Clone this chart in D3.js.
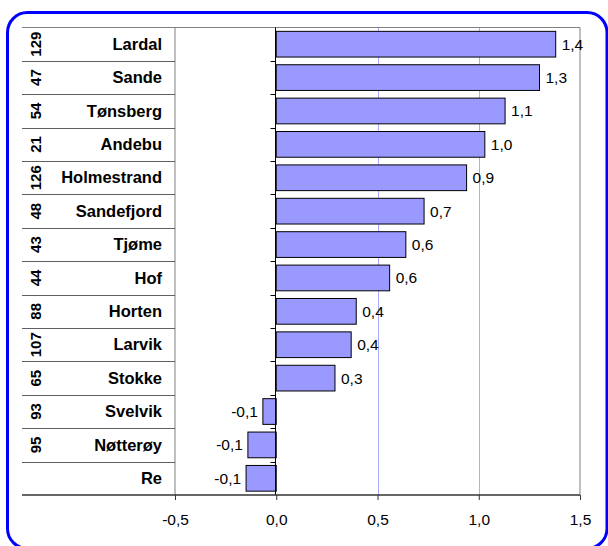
<!DOCTYPE html>
<html><head><meta charset="utf-8">
<script src="https://cdn.jsdelivr.net/npm/d3@7/dist/d3.min.js"></script>
<style>html,body{margin:0;padding:0;background:#fff;}svg{display:block;}</style>
</head><body>
<svg id="c" width="608" height="546"></svg>
<script>
const categories = ["Lardal","Sande","Tønsberg","Andebu","Holmestrand","Sandefjord","Tjøme","Hof","Horten","Larvik","Stokke","Svelvik","Nøtterøy","Re"];
const codes = ["129","47","54","21","126","48","43","44","88","107","65","93","95",""];
const values = [1.38,1.30,1.13,1.03,0.94,0.73,0.64,0.56,0.395,0.37,0.29,-0.066,-0.14,-0.149];
const xTicks = [-0.5,0,0.5,1.0,1.5];

const svg = d3.select("#c");
const font = "'Liberation Sans', Arial, sans-serif";
const L = 175, R = 580, T = 27.5, B = 495, tableL = 22;

// outer rounded border
svg.append("rect").attr("x",7.5).attr("y",12.5).attr("width",599.5).attr("height",536)
  .attr("rx",20).attr("ry",20).attr("fill","none").attr("stroke","#0000ff").attr("stroke-width",3);

const x = d3.scaleLinear().domain([-0.5,1.5]).range([L,R]);
const y = d3.scaleBand().domain(categories).range([T,B]).padding(0);
const bh = y.bandwidth()*0.77;
const fmt = v => d3.format(".1f")(v).replace(".",",").replace("−","-");

// gridlines
svg.append("g").selectAll("line").data([0.5,1.0]).join("line")
  .attr("x1",d=>Math.round(x(d))+0.5).attr("x2",d=>Math.round(x(d))+0.5)
  .attr("y1",T).attr("y2",B).attr("stroke","#aaaaff").attr("stroke-width",1);

// plot frame: top line, right line, left line (table right edge)
svg.append("line").attr("x1",tableL).attr("x2",R).attr("y1",T).attr("y2",T).attr("stroke","#808080");
svg.append("line").attr("x1",R).attr("x2",R).attr("y1",T).attr("y2",B).attr("stroke","#808080");
svg.append("line").attr("x1",L).attr("x2",L).attr("y1",T).attr("y2",B).attr("stroke","#808080");

// table row lines
const bounds = categories.slice(1).map(c=>y(c));
svg.append("g").selectAll("line").data(bounds).join("line")
  .attr("x1",tableL).attr("x2",L).attr("y1",d=>Math.round(d)+0.5).attr("y2",d=>Math.round(d)+0.5)
  .attr("stroke","#606060");

// bars
svg.append("g").selectAll("rect").data(values).join("rect")
  .attr("x",d=>x(Math.min(0,d))).attr("width",d=>Math.abs(x(d)-x(0)))
  .attr("y",(d,i)=>y(categories[i])+(y.bandwidth()-bh)/2).attr("height",bh)
  .attr("fill","#9999ff").attr("stroke","#000").attr("stroke-width",1);

// zero axis with ticks at boundaries
const x0 = Math.round(x(0))-0.5;
svg.append("line").attr("x1",x0).attr("x2",x0).attr("y1",T).attr("y2",B).attr("stroke","#000");
svg.append("g").selectAll("line").data(bounds).join("line")
  .attr("x1",x0-5).attr("x2",x0).attr("y1",d=>Math.round(d)+0.5).attr("y2",d=>Math.round(d)+0.5)
  .attr("stroke","#000");

// bottom axis
const xAxis = d3.axisBottom(x).tickValues(xTicks).tickSize(5).tickFormat(fmt);
const ax = svg.append("g").attr("transform",`translate(0,${B})`).call(xAxis);
ax.select(".domain").remove();
ax.selectAll(".tick line").attr("stroke","#333");
ax.selectAll(".tick text").attr("font-family",font).attr("font-size",15.5).attr("fill","#000").attr("dy",0).attr("y",29.5);
svg.append("line").attr("x1",tableL).attr("x2",R).attr("y1",B).attr("y2",B).attr("stroke","#333").attr("stroke-width",1.5);

// value labels
svg.append("g").selectAll("text").data(values).join("text")
  .attr("x",d=>d>=0?x(d)+6:x(d)-5)
  .attr("y",(d,i)=>y(categories[i])+y.bandwidth()/2)
  .attr("dy","0.35em").attr("text-anchor",d=>d>=0?"start":"end")
  .attr("font-family",font).attr("font-size",15.5).attr("fill","#000").text(fmt);

// category names
svg.append("g").selectAll("text").data(categories).join("text")
  .attr("x",162).attr("y",d=>y(d)+y.bandwidth()/2).attr("dy","0.34em")
  .attr("text-anchor","end").attr("font-family",font).attr("font-weight","bold").attr("font-size",16.5)
  .attr("fill","#000").text(d=>d);

// codes rotated
svg.append("g").selectAll("text").data(codes).join("text")
  .attr("transform",(d,i)=>`translate(35.5,${y(categories[i])+y.bandwidth()/2}) rotate(-90)`)
  .attr("dy","0.36em").attr("text-anchor","middle").attr("font-family",font).attr("font-weight","bold")
  .attr("font-size",15).attr("fill","#000").text(d=>d);
</script>
</body></html>
